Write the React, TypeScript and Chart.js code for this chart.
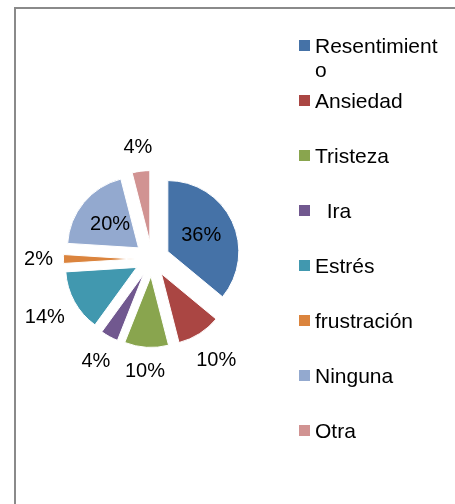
import React, { useEffect, useRef } from "react";
import { Chart, registerables } from "chart.js";

Chart.register(...registerables);

const categories = ["Resentimiento", "Ansiedad", "Tristeza", "  Ira", "Estrés", "frustración", "Ninguna", "Otra"];
const values = [36, 10, 10, 4, 14, 2, 20, 4];
const colors = ["#4572A7", "#AA4643", "#89A54E", "#71588F", "#4198AF", "#DB843D", "#93A9CF", "#D19392"];

const FONT = '"Liberation Sans", Arial, sans-serif';

const explodePlugin = {
  id: "explode",
  afterDatasetsUpdate(chart: any, _args: any, opts: any) {
    const d = opts.distance || 0;
    chart.getSortedVisibleDatasetMetas().forEach((meta: any) => {
      meta.data.forEach((el: any) => {
        const a = (el.startAngle + el.endAngle) / 2;
        el.x += Math.cos(a) * d;
        el.y += Math.sin(a) * d;
      });
    });
  },
};

const sliceLabelPlugin = {
  id: "sliceLabels",
  afterDatasetsDraw(chart: any, _args: any, opts: any) {
    const ctx = chart.ctx;
    const ds = chart.data.datasets[0];
    const data = ds.data as number[];
    const total = data.reduce((s, v) => s + v, 0);
    const meta = chart.getDatasetMeta(0);
    ctx.save();
    ctx.font = opts.font;
    ctx.fillStyle = opts.color;
    ctx.textAlign = "center";
    ctx.textBaseline = "middle";
    meta.data.forEach((el: any, i: number) => {
      const share = data[i] / total;
      const text = Math.round(share * 100) + "%";
      const a = (el.startAngle + el.endAngle) / 2;
      const ux = Math.cos(a);
      const uy = Math.sin(a);
      const w = ctx.measureText(text).width;
      let dist: number;
      if (share >= opts.insideThreshold) {
        dist = el.outerRadius * opts.insideRatio;
      } else {
        dist = el.outerRadius + opts.gap + (Math.abs(ux) * w) / 2 + Math.abs(uy) * opts.halfHeight;
      }
      ctx.fillText(text, el.x + ux * dist, el.y + uy * dist);
    });
    ctx.restore();
  },
};

function wrapText(ctx: CanvasRenderingContext2D, text: string, maxWidth: number): string[] {
  if (ctx.measureText(text).width <= maxWidth) return [text];
  const lines: string[] = [];
  let cur = "";
  for (const ch of text) {
    if (cur && ctx.measureText(cur + ch).width > maxWidth) {
      lines.push(cur);
      cur = ch;
    } else {
      cur += ch;
    }
  }
  if (cur) lines.push(cur);
  return lines;
}

const sideLegendPlugin = {
  id: "sideLegend",
  afterDraw(chart: any, _args: any, opts: any) {
    const ctx = chart.ctx as CanvasRenderingContext2D;
    const labels = chart.data.labels as string[];
    const bg = chart.data.datasets[0].backgroundColor as string[];
    ctx.save();
    ctx.font = opts.font;
    ctx.textAlign = "left";
    ctx.textBaseline = "alphabetic";
    labels.forEach((lab, i) => {
      const base = opts.top + i * opts.step;
      ctx.fillStyle = bg[i];
      ctx.fillRect(opts.boxX, base - opts.boxRise, opts.boxSize, opts.boxSize);
      ctx.fillStyle = opts.color;
      const lines = wrapText(ctx, lab, opts.maxWidth);
      lines.forEach((ln, j) => ctx.fillText(ln, opts.textX, base + j * opts.lineHeight));
    });
    ctx.restore();
  },
};

export default function App() {
  const ref = useRef<HTMLCanvasElement | null>(null);

  useEffect(() => {
    if (!ref.current) return;
    const chart = new Chart(ref.current, {
      type: "pie",
      data: {
        labels: categories,
        datasets: [
          {
            data: values,
            backgroundColor: colors,
            borderColor: "#ffffff",
            borderWidth: 1,
            radius: 71,
            offset: 0,
            hoverOffset: 0,
          } as any,
        ],
      },
      options: {
        responsive: false,
        animation: false,
        events: [],
        layout: { padding: { left: 10, right: 161, top: 30, bottom: 16 } },
        plugins: {
          legend: { display: false },
          tooltip: { enabled: false },
          explode: { distance: 17.5 },
          sliceLabels: {
            font: `20px ${FONT}`,
            color: "#000000",
            insideThreshold: 0.2,
            insideRatio: 0.52,
            gap: 10.5,
            halfHeight: 12,
          },
          sideLegend: {
            font: `21px ${FONT}`,
            color: "#000000",
            top: 53,
            step: 55,
            boxX: 299,
            boxSize: 11,
            boxRise: 13,
            textX: 315,
            lineHeight: 24,
            maxWidth: 128,
          },
        } as any,
      },
      plugins: [explodePlugin, sliceLabelPlugin, sideLegendPlugin],
    });
    return () => chart.destroy();
  }, []);

  return (
    <div
      style={{
        position: "fixed",
        left: 0,
        top: 0,
        width: 455,
        height: 504,
        overflow: "hidden",
        background: "#ffffff",
      }}
    >
      <div
        style={{
          position: "absolute",
          left: 14,
          top: 7,
          width: 700,
          height: 800,
          borderLeft: "2px solid #8a8a8a",
          borderTop: "2px solid #8a8a8a",
        }}
      />
      <canvas
        ref={ref}
        width={455}
        height={504}
        style={{ position: "absolute", left: 0, top: 0, display: "block" }}
      />
    </div>
  );
}
